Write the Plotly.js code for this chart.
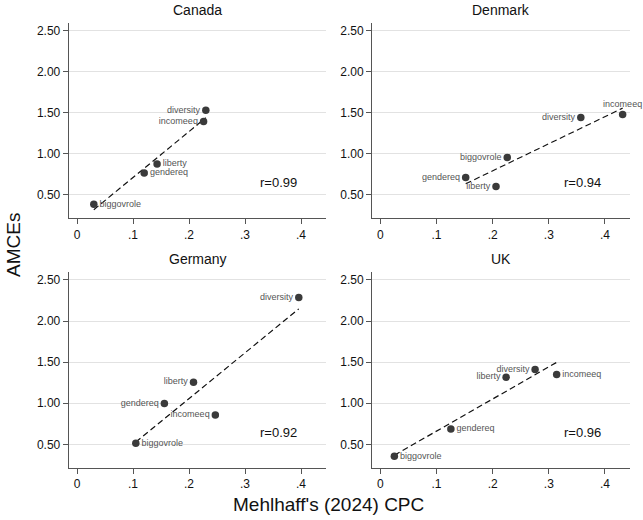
<!DOCTYPE html>
<html>
<head>
<meta charset="utf-8">
<script src="https://cdn.plot.ly/plotly-3.0.1.min.js"></script>
<style>
  html, body { margin: 0; padding: 0; background: #fff; }
  #chart { width: 643px; height: 520px; }
</style>
</head>
<body>
<div id="chart"></div>
<script>
// Panels: one per country
const countries = ['Canada', 'Denmark', 'Germany', 'UK'];

// Attribute names (point labels) per country
const canadaAttr  = ['diversity', 'incomeeq', 'liberty', 'gendereq', 'biggovrole'];
const denmarkAttr = ['incomeeq', 'diversity', 'biggovrole', 'gendereq', 'liberty'];
const germanyAttr = ['diversity', 'liberty', 'gendereq', 'incomeeq', 'biggovrole'];
const ukAttr      = ['diversity', 'liberty', 'incomeeq', 'gendereq', 'biggovrole'];

// Mehlhaff's (2024) CPC per attribute
const canadaCPC  = [0.230, 0.226, 0.143, 0.120, 0.030];
const denmarkCPC = [0.4315, 0.357, 0.226, 0.152, 0.206];
const germanyCPC = [0.396, 0.208, 0.156, 0.247, 0.105];
const ukCPC      = [0.2756, 0.224, 0.314, 0.1256, 0.025];

// AMCEs per attribute
const canadaAMCE  = [1.53, 1.395, 0.874, 0.765, 0.383];
const denmarkAMCE = [1.48, 1.443, 0.955, 0.711, 0.602];
const germanyAMCE = [2.285, 1.256, 0.996, 0.858, 0.512];
const ukAMCE      = [1.41, 1.317, 1.35, 0.687, 0.354];

// Correlation shown in each panel
const rValues = ['0.99', '0.94', '0.92', '0.96'];

// Axis ticks
const xTickVals = [0, 0.1, 0.2, 0.3, 0.4];
const xTickText = ['0', '.1', '.2', '.3', '.4'];
const yTickVals = [0.5, 1.0, 1.5, 2.0, 2.5];

// Where each marker label sits relative to its marker
const canadaPos  = ['middle left', 'middle left', 'middle right', 'middle right', 'middle right'];
const denmarkPos = ['top center', 'middle left', 'middle left', 'middle left', 'middle left'];
const germanyPos = ['middle left', 'middle left', 'middle left', 'middle left', 'middle right'];
const ukPos      = ['middle left', 'middle left', 'middle right', 'middle right', 'middle right'];

const panels = [
  { attr: canadaAttr,  x: canadaCPC,  y: canadaAMCE,  pos: canadaPos },
  { attr: denmarkAttr, x: denmarkCPC, y: denmarkAMCE, pos: denmarkPos },
  { attr: germanyAttr, x: germanyCPC, y: germanyAMCE, pos: germanyPos },
  { attr: ukAttr,      x: ukCPC,      y: ukAMCE,      pos: ukPos }
];

// Plot-area domains (paper fractions) for the 2x2 grid
const W = 643, H = 520;
const colPx = [[69, 326], [372.3, 630]];
const rowPx = [[22.7, 218], [271.7, 467.7]];
const titleYpx = [10, 259];

const FONT = '"Liberation Sans", Arial, Helvetica, sans-serif';

// Least-squares line over the observed x span
function fitLine(xs, ys) {
  const n = xs.length;
  const mx = xs.reduce((a, b) => a + b, 0) / n;
  const my = ys.reduce((a, b) => a + b, 0) / n;
  let sxy = 0, sxx = 0;
  for (let i = 0; i < n; i++) {
    sxy += (xs[i] - mx) * (ys[i] - my);
    sxx += (xs[i] - mx) * (xs[i] - mx);
  }
  const b = sxy / sxx, a = my - b * mx;
  const x0 = Math.min(...xs), x1 = Math.max(...xs);
  return { x: [x0, x1], y: [a + b * x0, a + b * x1] };
}

const traces = [];
const layout = {
  width: W, height: H,
  margin: { l: 0, r: 0, t: 0, b: 0 },
  paper_bgcolor: '#ffffff',
  plot_bgcolor: '#ffffff',
  showlegend: false,
  font: { family: FONT, color: '#111' },
  annotations: []
};

panels.forEach((p, i) => {
  const row = Math.floor(i / 2), col = i % 2;
  const sfx = i === 0 ? '' : String(i + 1);
  const xa = 'x' + sfx, ya = 'y' + sfx;

  const fit = fitLine(p.x, p.y);
  traces.push({
    type: 'scatter', mode: 'lines', x: fit.x, y: fit.y,
    xaxis: xa, yaxis: ya, hoverinfo: 'skip',
    line: { color: '#111', width: 1.2, dash: '6px,3.5px' }
  });
  traces.push({
    type: 'scatter', mode: 'markers+text', x: p.x, y: p.y,
    text: p.attr, textposition: p.pos,
    textfont: { family: FONT, size: 9, color: '#555' },
    xaxis: xa, yaxis: ya, cliponaxis: false,
    marker: { size: 7.5, color: '#3a3a3a' }
  });

  const xd = [colPx[col][0] / W, colPx[col][1] / W];
  const yd = [1 - rowPx[row][1] / H, 1 - rowPx[row][0] / H];

  layout['xaxis' + sfx] = {
    domain: xd, anchor: ya,
    range: [-0.0143, 0.4446],
    tickmode: 'array', tickvals: xTickVals, ticktext: xTickText,
    showgrid: false, zeroline: false,
    showline: true, linecolor: '#555', linewidth: 1.3,
    ticks: 'outside', ticklen: 5, tickcolor: '#555', tickwidth: 1,
    tickfont: { family: FONT, size: 12, color: '#111' }
  };
  layout['yaxis' + sfx] = {
    domain: yd, anchor: xa,
    range: [0.216, 2.6],
    tickmode: 'array', tickvals: yTickVals, tickformat: '.2f',
    showgrid: true, gridcolor: '#e2e2e2', gridwidth: 1,
    zeroline: false,
    showline: true, linecolor: '#555', linewidth: 1.3,
    ticks: 'outside', ticklen: 5, tickcolor: '#555', tickwidth: 1,
    tickfont: { family: FONT, size: 12, color: '#111' }
  };

  // Panel title
  layout.annotations.push({
    xref: 'paper', yref: 'paper',
    x: (xd[0] + xd[1]) / 2, y: 1 - titleYpx[row] / H,
    xanchor: 'center', yanchor: 'middle', showarrow: false,
    text: countries[i], font: { family: FONT, size: 14, color: '#111' }
  });
  // Correlation label
  layout.annotations.push({
    xref: xa, yref: ya, x: 0.36, y: 0.646,
    xanchor: 'center', yanchor: 'middle', showarrow: false,
    text: 'r=' + rValues[i], font: { family: FONT, size: 13, color: '#111' }
  });
});

// Shared axis titles
layout.annotations.push({
  xref: 'paper', yref: 'paper', x: 13 / W, y: 1 - 245 / H,
  xanchor: 'center', yanchor: 'middle', showarrow: false, textangle: -90,
  text: 'AMCEs', font: { family: FONT, size: 19, color: '#111' }
});
layout.annotations.push({
  xref: 'paper', yref: 'paper', x: 328 / W, y: 1 - 504 / H,
  xanchor: 'center', yanchor: 'middle', showarrow: false,
  text: "Mehlhaff's (2024) CPC", font: { family: FONT, size: 19, color: '#111' }
});

Plotly.newPlot('chart', traces, layout, { staticPlot: true, displayModeBar: false });
</script>
</body>
</html>
